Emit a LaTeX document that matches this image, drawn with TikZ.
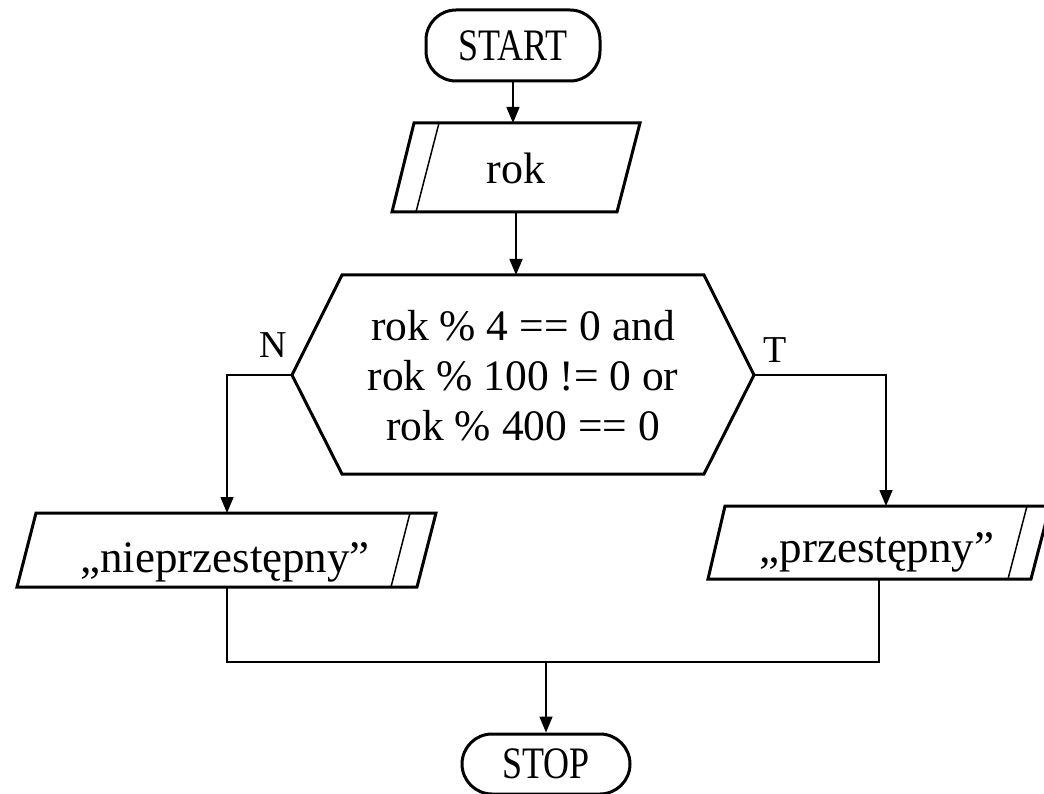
\documentclass[tikz,border=0pt]{standalone}
\usepackage{fontspec}
\setmainfont{Liberation Serif}
\newfontfamily\termfont[FakeStretch=0.8]{Liberation Serif}
\usetikzlibrary{arrows.meta}
\begin{document}
\begin{tikzpicture}[x=1pt,y=-1pt,
  outline/.style={draw, line width=3pt, line join=miter},
  conn/.style={line width=1.5pt},
  arrow/.style={conn, -{Triangle[length=16pt,width=13pt]}},
  txt/.style={font=\fontsize{45}{50}\selectfont, inner sep=0pt, anchor=base},
  lbl/.style={font=\fontsize{38}{44}\selectfont, inner sep=0pt, anchor=base},
  term/.style={draw, line width=3pt, rounded corners=30pt, inner sep=0pt,
    font=\termfont\fontsize{45}{50}\selectfont}
]
\useasboundingbox (0,0) rectangle (1044,794);

% terminals
\node[term, minimum width=174pt, minimum height=71pt] (start) at (513,45.5) {START};
\node[term, minimum width=168pt, minimum height=60pt] (stop) at (546,764) {STOP};

% input: rok
\draw[outline] (414,123) -- (640,123) -- (617,212) -- (392,212) -- cycle;
\draw[line width=1.5pt] (439,123) -- (416,212);
\node[txt, font=\fontsize{44}{50}\selectfont] (rok) at (516,184) {rok};
\coordinate (rok-top) at (513,123);
\coordinate (rok-bot) at (516,212);

% decision
\draw[outline] (292,375) -- (342,275) -- (704,275) -- (754,375) -- (704,474) -- (342,474) -- cycle;
\node[font=\fontsize{43.5}{50}\selectfont, inner sep=0pt, align=center] (cond) at (523,376)
  {rok \% 4 == 0 and\\rok \% 100 != 0 or\\rok \% 400 == 0};
\coordinate (hex-top) at (516,275);
\coordinate (hex-left) at (292,375);
\coordinate (hex-right) at (754,375);
\node[lbl] (no) at (273,357) {N};
\node[lbl] (yes) at (775,362) {T};

% output: not leap year
\draw[outline] (36,513) -- (436,513) -- (417,587) -- (17,587) -- cycle;
\draw[line width=1.5pt] (410,513) -- (391,587);
\node[txt] (nie) at (225,572) {„nieprzestępny”};
\coordinate (nie-top) at (227,513);
\coordinate (nie-bot) at (227,587);

% output: leap year
\draw[outline] (725,506) -- (1050,506) -- (1031,579) -- (708,579) -- cycle;
\draw[line width=1.5pt] (1027,506) -- (1008,579);
\node[txt] (prz) at (877,562) {„przestępny”};
\coordinate (prz-top) at (886,506);
\coordinate (prz-bot) at (879,579);

\coordinate (join) at (546,662);

% connectors
\draw[arrow] (start.south) -- (rok-top);
\draw[arrow] (rok-bot) -- (hex-top);
\draw[arrow] (hex-left) -| (nie-top);
\draw[arrow] (hex-right) -| (prz-top);
\draw[conn] (nie-bot) |- (join) -| (prz-bot);
\draw[arrow] (join) -- (stop.north);
\end{tikzpicture}
\end{document}
